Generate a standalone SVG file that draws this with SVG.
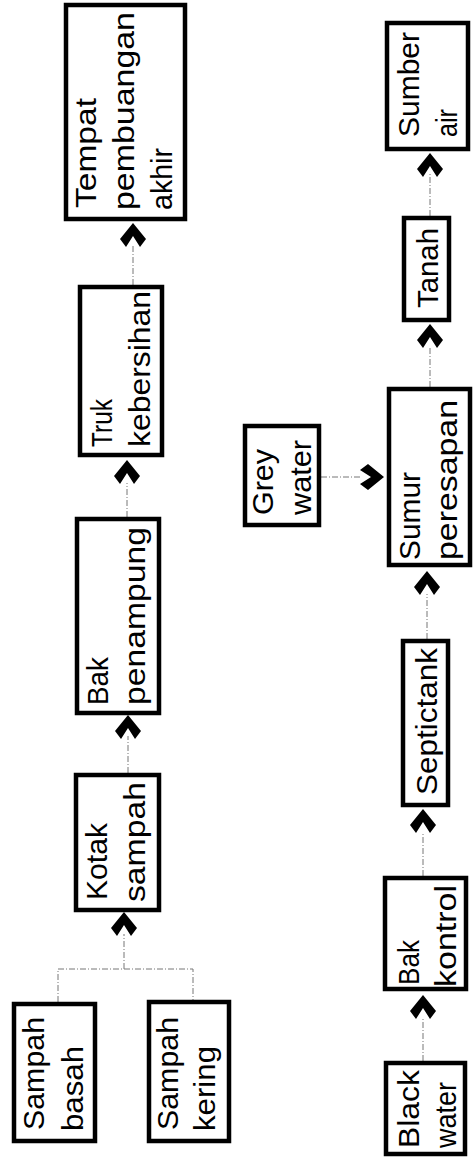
<svg xmlns="http://www.w3.org/2000/svg" xmlns:xlink="http://www.w3.org/1999/xlink" width="473" height="1166" viewBox="0 0 473 1166">
<style>
.box{fill:#fff;stroke:#000;stroke-width:4.5}
.t{font-family:"Liberation Sans",Arial,sans-serif;font-size:29px;fill:#000}
.ln{fill:none;stroke:#777;stroke-width:1;stroke-dasharray:6 2 1 2}
.ch{fill:#000}
</style>
<defs>
<polygon id="chev" points="0,0 13,16 7,24 0,13 -7,24 -13,16"/>
</defs>
<rect width="473" height="1166" fill="#fff"/>
<g id="connectors">
<path class="ln" d="M58,1002 V969 H193 V1000"/>
<path class="ln" d="M124,969 V934"/>
<path class="ln" d="M128,773 V736"/>
<path class="ln" d="M127,517 V483"/>
<path class="ln" d="M133,285 V246"/>
<path class="ln" d="M423,1061 V1018"/>
<path class="ln" d="M423,876 V832"/>
<path class="ln" d="M427,639 V594"/>
<path class="ln" d="M321,477 H362"/>
<path class="ln" d="M430,387 V346"/>
<path class="ln" d="M430,216 V174"/>
<use class="ch" xlink:href="#chev" transform="translate(124,912)"/>
<use class="ch" xlink:href="#chev" transform="translate(128,715)"/>
<use class="ch" xlink:href="#chev" transform="translate(127,460)"/>
<use class="ch" xlink:href="#chev" transform="translate(133,223)"/>
<use class="ch" xlink:href="#chev" transform="translate(423,995)"/>
<use class="ch" xlink:href="#chev" transform="translate(423,809)"/>
<use class="ch" xlink:href="#chev" transform="translate(427,571)"/>
<use class="ch" xlink:href="#chev" transform="translate(384,477) rotate(90)"/>
<use class="ch" xlink:href="#chev" transform="translate(430,324)"/>
<use class="ch" xlink:href="#chev" transform="translate(430,153)"/>
</g>
<g id="sampah-basah">
<rect class="box" x="14" y="1004" width="81" height="137"/>
<text class="t" transform="translate(44,1130) rotate(-90)" textLength="113" lengthAdjust="spacingAndGlyphs">Sampah</text>
<text class="t" transform="translate(83,1131) rotate(-90)" textLength="85" lengthAdjust="spacingAndGlyphs">basah</text>
</g>
<g id="sampah-kering">
<rect class="box" x="149" y="1002" width="80" height="139"/>
<text class="t" transform="translate(178,1130) rotate(-90)" textLength="113" lengthAdjust="spacingAndGlyphs">Sampah</text>
<text class="t" transform="translate(215,1131) rotate(-90)" textLength="85" lengthAdjust="spacingAndGlyphs">kering</text>
</g>
<g id="kotak-sampah">
<rect class="box" x="76" y="775" width="83" height="135"/>
<text class="t" transform="translate(107,900) rotate(-90)" textLength="77" lengthAdjust="spacingAndGlyphs">Kotak</text>
<text class="t" transform="translate(145,902) rotate(-90)" textLength="120" lengthAdjust="spacingAndGlyphs">sampah</text>
</g>
<g id="bak-penampung">
<rect class="box" x="77" y="519" width="82" height="194"/>
<text class="t" transform="translate(108,705) rotate(-90)" textLength="48" lengthAdjust="spacingAndGlyphs">Bak</text>
<text class="t" transform="translate(145,705) rotate(-90)" textLength="178" lengthAdjust="spacingAndGlyphs">penampung</text>
</g>
<g id="truk-kebersihan">
<rect class="box" x="80" y="287" width="82" height="168"/>
<text class="t" transform="translate(112,447) rotate(-90)" textLength="48" lengthAdjust="spacingAndGlyphs">Truk</text>
<text class="t" transform="translate(150,447) rotate(-90)" textLength="156" lengthAdjust="spacingAndGlyphs">kebersihan</text>
</g>
<g id="tempat-pembuangan-akhir">
<rect class="box" x="66" y="5" width="119" height="214"/>
<text class="t" transform="translate(96,208) rotate(-90)" textLength="110" lengthAdjust="spacingAndGlyphs">Tempat</text>
<text class="t" transform="translate(134,210) rotate(-90)" textLength="198" lengthAdjust="spacingAndGlyphs">pembuangan</text>
<text class="t" transform="translate(172,210) rotate(-90)" textLength="62" lengthAdjust="spacingAndGlyphs">akhir</text>
</g>
<g id="black-water">
<rect class="box" x="386" y="1063" width="79" height="91"/>
<text class="t" transform="translate(419,1148) rotate(-90)" textLength="78" lengthAdjust="spacingAndGlyphs">Black</text>
<text class="t" transform="translate(456,1148) rotate(-90)" textLength="66" lengthAdjust="spacingAndGlyphs">water</text>
</g>
<g id="bak-kontrol">
<rect class="box" x="385" y="878" width="81" height="111"/>
<text class="t" transform="translate(419,985) rotate(-90)" textLength="45" lengthAdjust="spacingAndGlyphs">Bak</text>
<text class="t" transform="translate(456,987) rotate(-90)" textLength="102" lengthAdjust="spacingAndGlyphs">kontrol</text>
</g>
<g id="septictank">
<rect class="box" x="403" y="641" width="45" height="164"/>
<text class="t" transform="translate(437,795) rotate(-90)" textLength="147" lengthAdjust="spacingAndGlyphs">Septictank</text>
</g>
<g id="sumur-peresapan">
<rect class="box" x="389" y="389" width="81" height="176"/>
<text class="t" transform="translate(420,560) rotate(-90)" textLength="88" lengthAdjust="spacingAndGlyphs">Sumur</text>
<text class="t" transform="translate(457,560) rotate(-90)" textLength="160" lengthAdjust="spacingAndGlyphs">peresapan</text>
</g>
<g id="grey-water">
<rect class="box" x="245" y="426" width="74" height="99"/>
<text class="t" transform="translate(273,515) rotate(-90)" textLength="66" lengthAdjust="spacingAndGlyphs">Grey</text>
<text class="t" transform="translate(311,515) rotate(-90)" textLength="75" lengthAdjust="spacingAndGlyphs">water</text>
</g>
<g id="tanah">
<rect class="box" x="404" y="218" width="45" height="102"/>
<text class="t" transform="translate(438,308) rotate(-90)" textLength="80" lengthAdjust="spacingAndGlyphs">Tanah</text>
</g>
<g id="sumber-air">
<rect class="box" x="387" y="23" width="81" height="126"/>
<text class="t" transform="translate(419,137) rotate(-90)" textLength="105" lengthAdjust="spacingAndGlyphs">Sumber</text>
<text class="t" transform="translate(457,137) rotate(-90)" textLength="28" lengthAdjust="spacingAndGlyphs">air</text>
</g>
</svg>
